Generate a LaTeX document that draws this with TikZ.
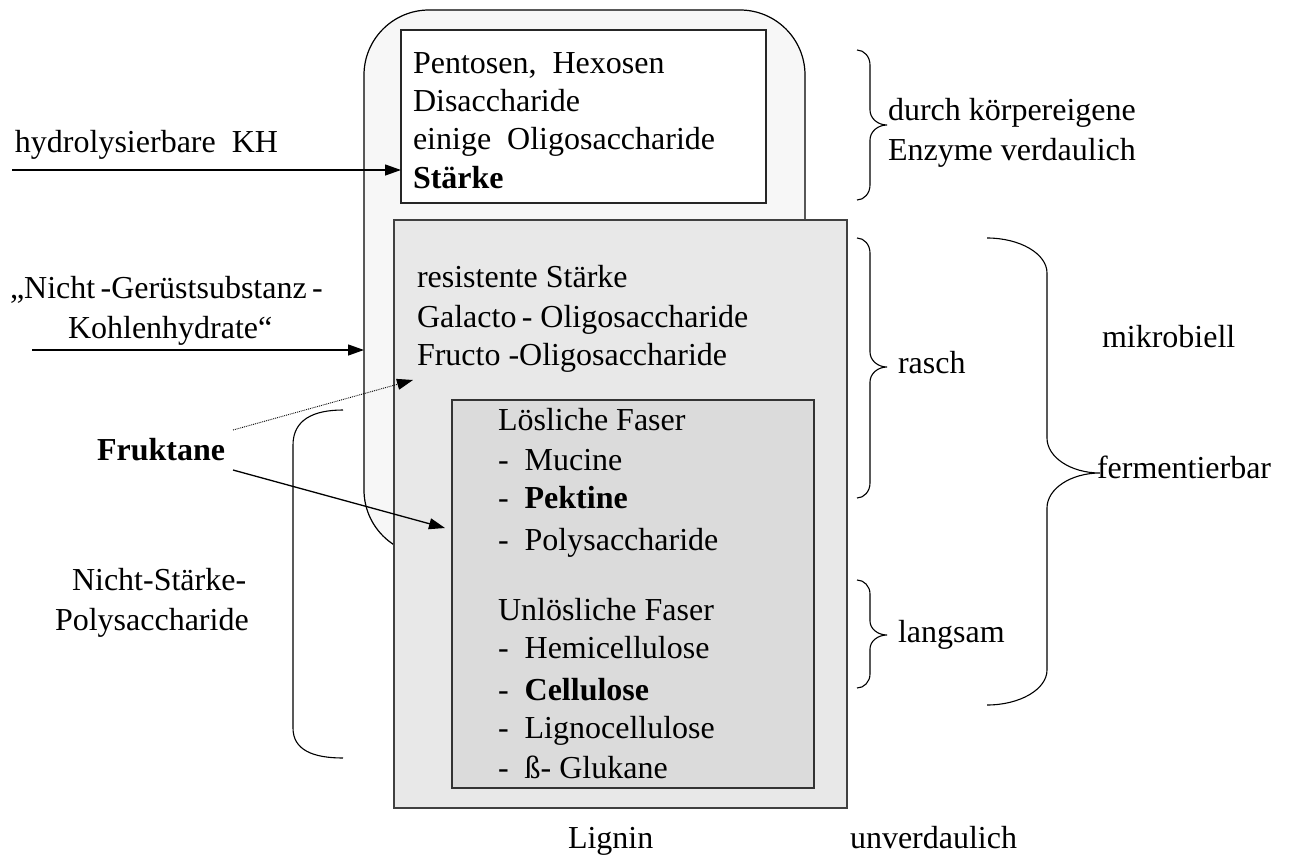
\documentclass[tikz,border=0pt]{standalone}
\usepackage{fontspec}
\setmainfont{Liberation Serif}
\usetikzlibrary{arrows.meta}
\newcommand\BraceR[7]{\draw[brace] (#1,#4) .. controls ({#1+0.55*(#2-#1)},#4) and (#2,{#4+0.45*#7}) .. (#2,{#4+#7}) -- (#2,{#5-#7}) .. controls (#2,{#5-0.45*#7}) and ({#3-0.55*(#3-#2)},#5) .. (#3,#5) .. controls ({#3-0.55*(#3-#2)},#5) and (#2,{#5+0.45*#7}) .. (#2,{#5+#7}) -- (#2,{#6-#7}) .. controls (#2,{#6-0.45*#7}) and ({#1+0.55*(#2-#1)},#6) .. (#1,#6);}
\begin{document}
\begin{tikzpicture}[x=1pt,y=-1pt,
  font=\fontsize{32}{38}\selectfont,
  lbl/.style={anchor=base west, inner sep=0pt, outer sep=0pt},
  box/.style={anchor=north west, inner sep=0pt, outer sep=0pt, line width=1.2pt},
  arr/.style={line width=1.3pt, -{Triangle[length=16pt,width=11pt]}},
  dotarr/.style={line width=0.9pt, densely dotted, -{Triangle[length=16pt,width=11pt]}},
  brace/.style={line width=1.1pt}]
\useasboundingbox (0,0) rectangle (1294,857);

% boxes
\node[box, draw=black, fill=black!3, rounded corners=65pt, minimum width=441pt, minimum height=545pt] (outer) at (364,10) {};
\node[box, draw=black!85, fill=white, minimum width=365pt, minimum height=173pt] (topbox) at (401,30) {};
\node[box, draw=black!75, fill=black!9, minimum width=453pt, minimum height=588pt] (graybox) at (394,220) {};
\node[box, draw=black!80, fill=black!14, minimum width=362pt, minimum height=388pt] (inner) at (452,400) {};

% top box text
\node[lbl] (t1) at (413,73) {Pentosen,\ \ Hexosen};
\node[lbl] (t2) at (413,111) {Disaccharide};
\node[lbl] (t3) at (413,149) {einige\ \ Oligosaccharide};
\node[lbl] (t4) at (413,188) {\textbf{Stärke}};

% gray box text
\node[lbl] (g1) at (417,287) {resistente Stärke};
\node[lbl] (g2) at (417,327) {Galacto\,- Oligosaccharide};
\node[lbl] (g3) at (417,365) {Fructo -Oligosaccharide};

% inner box text
\node[lbl] (i1) at (498,430) {Lösliche Faser};
\node[lbl] (i2) at (498,470) {-\ \ Mucine};
\node[lbl] (i3) at (498,508) {-\ \ \textbf{Pektine}};
\node[lbl] (i4) at (498,550) {-\ \ Polysaccharide};
\node[lbl] (i5) at (498,620) {Unlösliche Faser};
\node[lbl] (i6) at (498,658) {-\ \ Hemicellulose};
\node[lbl] (i7) at (498,700) {-\ \ \textbf{Cellulose}};
\node[lbl] (i8) at (498,738) {-\ \ Lignocellulose};
\node[lbl] (i9) at (498,778) {-\ \ ß- Glukane};

% left labels
\node[lbl] (hk) at (15,152) {hydrolysierbare\ \ KH};
\node[lbl] (ng1) at (10,298) {„Nicht\,-Gerüstsubstanz\,-};
\node[lbl] (ng2) at (68,338) {Kohlenhydrate“};
\node[lbl] (fruk) at (97,460) {\textbf{Fruktane}};
\node[lbl] (ns1) at (72,590) {Nicht-Stärke-};
\node[lbl] (ns2) at (55,630) {Polysaccharide};

% bottom labels
\node[lbl] (lig) at (568,848) {Lignin};
\node[lbl] (unv) at (850,848) {unverdaulich};

% right labels
\node[lbl] (dk1) at (888,120) {durch körpereigene};
\node[lbl] (dk2) at (888,160) {Enzyme verdaulich};
\node[lbl] (ra) at (898,373) {rasch};
\node[lbl] (la) at (898,642) {langsam};
\node[lbl] (mi) at (1102,347) {mikrobiell};
\node[lbl] (fe) at (1097,478) {fermentierbar};

% arrows
\coordinate (hkA) at (12,170);
\draw[arr] (hkA) -- (hkA -| topbox.west);
\coordinate (ngA) at (32,350);
\draw[arr] (ngA) -- (ngA -| outer.west);
\coordinate (frA) at (233,430);
\coordinate (frB) at (413,380);
\draw[dotarr] (frA) -- (frB);
\coordinate (frC) at (233,470);
\coordinate (frD) at (445,528);
\draw[arr] (frC) -- (frD);

% braces
\BraceR{857}{870}{887}{50}{125}{200}{15}
\BraceR{857}{870}{887}{238}{367}{498}{15}
\BraceR{857}{870}{887}{580}{635}{688}{14}
\BraceR{987}{1047}{1100}{238}{473}{705}{35}
\draw[brace] (343,410) .. controls (313,410) and (293,420) .. (293,445) -- (293,728) .. controls (293,750) and (313,758) .. (343,758);
\end{tikzpicture}
\end{document}
